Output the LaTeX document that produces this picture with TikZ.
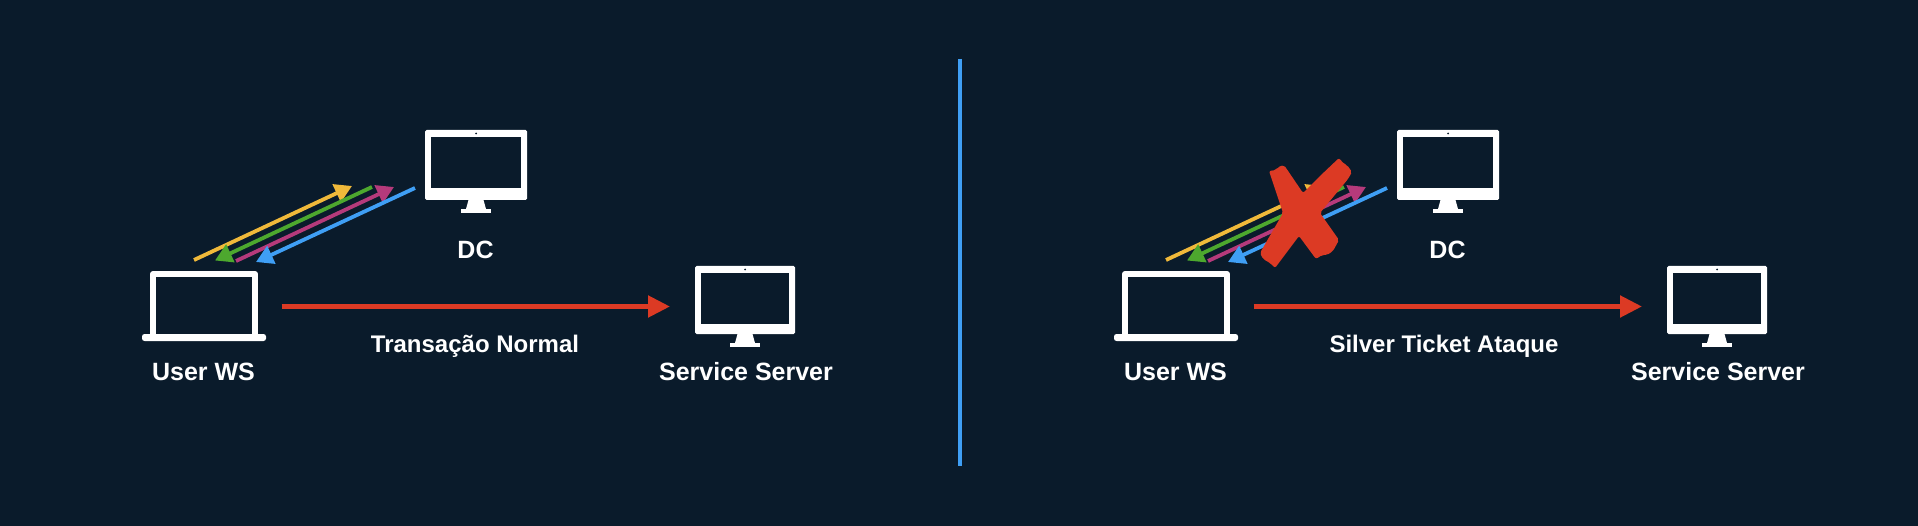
\documentclass[tikz,border=0pt]{standalone}
\usepackage{fontspec}
\setmainfont{Liberation Sans}
\usetikzlibrary{arrows.meta}

\definecolor{bgnavy}{HTML}{0A1B2B}
\definecolor{arrowyellow}{HTML}{F0B93A}
\definecolor{arrowgreen}{HTML}{4DA82E}
\definecolor{arrowpink}{HTML}{B53A7B}
\definecolor{arrowblue}{HTML}{3F9FF5}
\definecolor{crossred}{HTML}{DC3A24}

% monitor icon: name, centre of the body, width, height
\newcommand{\monitoricon}[4]{
    \node[monbody, minimum width=#3pt, minimum height=#4pt] (#1) at (#2) {};
    \node[monscreen, minimum width=#3pt-12pt, minimum height=51pt, anchor=north] (#1scr) at ([yshift=-7pt]#1.north) {};
    \node[camdot] (#1cam) at ([yshift=-3.5pt]#1.north) {};
    \node[monbase] (#1base) at ([yshift=-11pt]#1.south) {};
    \fill[white] ([xshift=-7.5pt]#1.south) -- ([xshift=7.5pt]#1.south) -- ([xshift=10pt]#1base.north) -- ([xshift=-10pt]#1base.north) -- cycle;
}
% laptop icon: name, centre of the lid
\newcommand{\laptopicon}[2]{
    \node[lapbody] (#1) at (#2) {};
    \node[lapbase] (#1base) at ([yshift=-0.5pt]#1.south) {};
}

\begin{document}
\begin{tikzpicture}[
    x=1pt, y=-1pt,
    every node/.style={font=\bfseries\fontsize{25}{29}\selectfont, text=white},
    capnode/.style={font=\bfseries\fontsize{24}{28}\selectfont},
    monbody/.style={fill=white, rounded corners=1.5pt, inner sep=0pt, outer sep=0pt},
    monscreen/.style={fill=bgnavy, inner sep=0pt, outer sep=0pt},
    camdot/.style={circle, fill=bgnavy, minimum size=2pt, inner sep=0pt},
    monbase/.style={fill=white, minimum width=30pt, minimum height=4pt, inner sep=0pt, outer sep=0pt},
    lapbody/.style={draw=white, line width=6pt, line join=round, minimum width=102pt, minimum height=63pt, inner sep=0pt, outer sep=0pt},
    lapbase/.style={fill=white, rounded corners=2.5pt, minimum width=124pt, minimum height=7pt, inner sep=0pt, outer sep=0pt},
    thinarrow/.style={line width=3.8pt, -{Triangle[length=17pt, width=19pt]}},
    redarrow/.style={draw=crossred, line width=5pt, -{Triangle[length=22pt, width=21pt]}},
]
\useasboundingbox (0,0) rectangle (1918,526);
\fill[bgnavy] (0,0) rectangle (1918,526);

% ── Divider ──────────────────────────────────────────────────────────────────
\coordinate (divtop) at (960,59);
\coordinate (divbot) at (960,466);
\draw[arrowblue, line width=4pt] (divtop) -- (divbot);

% ── Both panels ──────────────────────────────────────────────────────────────
\foreach \xo/\tag/\capx/\captxt in {0/a/475/Transação Normal, 972/b/1444/Silver Ticket Ataque} {
    \laptopicon{ws\tag}{204+\xo,305.5}
    \monitoricon{dc\tag}{476+\xo,165}{102}{70}
    \monitoricon{srv\tag}{745+\xo,300}{100}{68}

    \node (wslabel\tag)  at (203.5+\xo,372) {User WS};
    \node (dclabel\tag)  at (475.5+\xo,250) {DC};
    \node (srvlabel\tag) at (746+\xo,372) {Service Server};
    \node[capnode] (cap\tag) at (\capx,346) {\captxt};

    % ends of the four exchanges
    \coordinate (ya\tag) at (194+\xo,260);
    \coordinate (yb\tag) at (352+\xo,186);
    \coordinate (ga\tag) at (372+\xo,187);
    \coordinate (gb\tag) at (215+\xo,260.5);
    \coordinate (pa\tag) at (236+\xo,261);
    \coordinate (pb\tag) at (394+\xo,187);
    \coordinate (ba\tag) at (415+\xo,188);
    \coordinate (bb\tag) at (256+\xo,262);
    \draw[thinarrow, arrowyellow] (ya\tag) -- (yb\tag);
    \draw[thinarrow, arrowgreen]  (ga\tag) -- (gb\tag);
    \draw[thinarrow, arrowpink]   (pa\tag) -- (pb\tag);
    \draw[thinarrow, arrowblue]   (ba\tag) -- (bb\tag);

    \coordinate (ra\tag) at (281.5+\xo,306.5);
    \coordinate (rb\tag) at (670+\xo,306.5);
    \draw[redarrow] (ra\tag) -- (rb\tag);
}

% ── Red cross over the right exchanges ───────────────────────────────────────
\fill[crossred, rounded corners=2pt]
    (1269,171) -- (1276,170) -- (1278,167) -- (1284,165) -- (1303,193)
    -- (1320,176) -- (1339,158) -- (1344,164) -- (1347,165) -- (1352,172) -- (1348,179)
    -- (1320,213) -- (1339,240) -- (1333,251) -- (1327,255) -- (1322,255) -- (1316,259) -- (1299,236)
    -- (1275,268) -- (1270,263) -- (1263,259) -- (1260,253) -- (1283,213)
    -- cycle;
\end{tikzpicture}
\end{document}
